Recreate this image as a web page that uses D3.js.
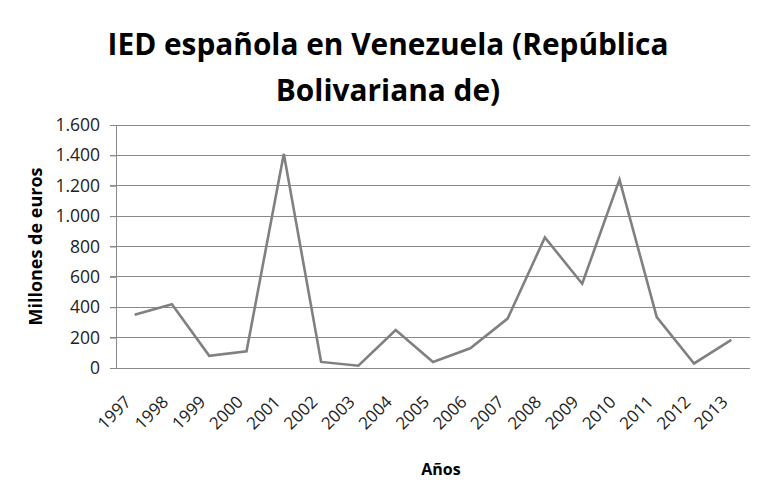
<!DOCTYPE html>
<html>
<head>
<meta charset="utf-8">
<script src="https://cdn.jsdelivr.net/npm/d3@7"></script>
<style>
  body { margin: 0; background: #fff; }
  svg { display: block; font-family: "Open Sans", sans-serif; }
</style>
</head>
<body>
<div id="chart"></div>
<script>
// datos
const years = ["1997", "1998", "1999", "2000", "2001", "2002", "2003", "2004", "2005",
  "2006", "2007", "2008", "2009", "2010", "2011", "2012", "2013"];
const ied = [350, 420, 80, 110, 1410, 40, 15, 250, 40, 130, 325, 860, 555, 1240, 335, 30, 185];
const yTicks = [0, 200, 400, 600, 800, 1000, 1200, 1400, 1600];

const width = 770;
const height = 482;
const margin = { top: 125, right: 20, bottom: 114, left: 116 };

const svg = d3.select("#chart").append("svg")
  .attr("width", width)
  .attr("height", height);

const xScale = d3.scalePoint()
  .domain(years)
  .range([margin.left, width - margin.right])
  .padding(0.5);

const yScale = d3.scaleLinear()
  .domain([0, 1600])
  .range([height - margin.bottom, margin.top]);

const fmt = d3.formatLocale({ decimal: ",", thousands: ".", grouping: [3], currency: ["", "€"] }).format(",d");

// rejilla
svg.append("g")
  .selectAll("line")
  .data(yTicks)
  .join("line")
  .attr("x1", margin.left - 6)
  .attr("x2", width - margin.right)
  .attr("y1", (d) => yScale(d))
  .attr("y2", (d) => yScale(d))
  .attr("stroke", "#8a8a8a")
  .attr("stroke-width", 1)
  .attr("shape-rendering", "crispEdges");

// eje y
svg.append("g")
  .attr("transform", `translate(${margin.left},0)`)
  .call(d3.axisLeft(yScale).tickValues(yTicks).tickFormat(fmt).tickSize(6).tickPadding(10))
  .attr("font-family", null)
  .call((g) => g.select(".domain").attr("stroke", "#8a8a8a").attr("shape-rendering", "crispEdges"))
  .call((g) => g.selectAll(".tick line").attr("stroke", "#8a8a8a"))
  .call((g) => g.selectAll("text").style("font-size", "17.5px").attr("fill", "#222"));

// eje x
svg.append("g")
  .attr("transform", `translate(0,${height - margin.bottom})`)
  .call(d3.axisBottom(xScale).tickSize(0).tickPadding(0))
  .attr("font-family", null)
  .call((g) => g.select(".domain").remove())
  .call((g) => g.selectAll("text")
    .style("font-size", "17px")
    .attr("fill", "#222")
    .attr("text-anchor", "end")
    .attr("dy", null)
    .attr("transform", "translate(-3,35) rotate(-45)"));

// línea
const line = d3.line()
  .x((d, i) => xScale(years[i]))
  .y((d) => yScale(d));

svg.append("path")
  .datum(ied)
  .attr("fill", "none")
  .attr("stroke", "#808080")
  .attr("stroke-width", 2.6)
  .attr("stroke-linejoin", "miter")
  .attr("d", line);

// título
const title = svg.append("text")
  .attr("text-anchor", "middle")
  .attr("font-weight", "bold")
  .style("font-size", "30px")
  .attr("fill", "#000");
title.append("tspan").attr("x", 388).attr("y", 55).text("IED española en Venezuela (República");
title.append("tspan").attr("x", 388).attr("y", 101).text("Bolivariana de)");

// ajustar tamaño del título al ancho de la referencia
const w = title.select("tspan").node().getComputedTextLength();
title.style("font-size", (30 * 561 / w).toFixed(2) + "px");

svg.append("text")
  .attr("transform", `translate(42,${(margin.top + height - margin.bottom) / 2}) rotate(-90)`)
  .attr("text-anchor", "middle")
  .attr("font-weight", "bold")
  .style("font-size", "18px")
  .text("Millones de euros");

svg.append("text")
  .attr("x", 441)
  .attr("y", 475)
  .attr("text-anchor", "middle")
  .attr("font-weight", "bold")
  .style("font-size", "16px")
  .text("Años");
</script>
</body>
</html>
